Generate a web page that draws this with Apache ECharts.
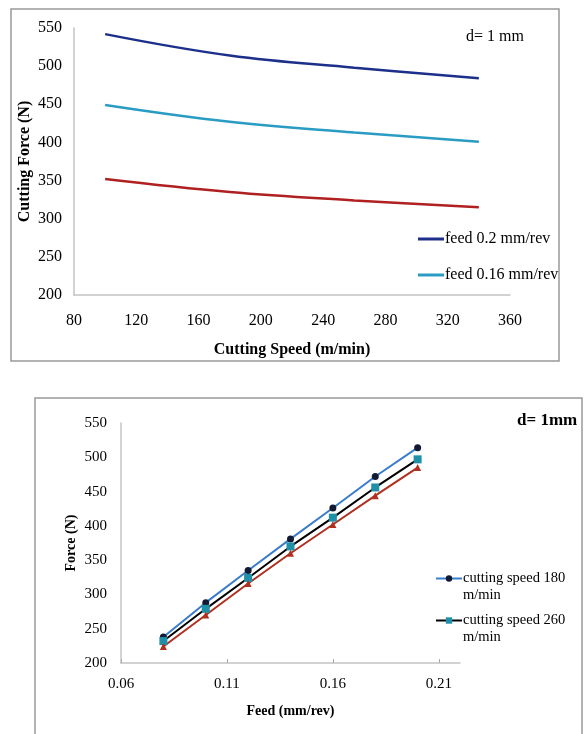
<!DOCTYPE html>
<html><head><meta charset="utf-8">
<script src="https://cdn.jsdelivr.net/npm/echarts@6/dist/echarts.min.js"></script>
<style>html,body{margin:0;padding:0;background:#fff}#c{width:584px;height:734px}</style>
</head><body><div id="c"></div>
<script>
// Top chart: cutting force vs cutting speed (d = 1 mm)
const speeds = [100, 180, 260, 340];
const feed020 = [542, 514, 498, 484];
const feed016 = [449, 427, 413, 401];
const feed012 = [352, 335, 324, 315];
const topNames = ['feed 0.2 mm/rev', 'feed 0.16 mm/rev', 'feed 0.12 mm/rev'];

// Bottom chart: force vs feed (d = 1 mm)
const feeds = [0.08, 0.10, 0.12, 0.14, 0.16, 0.18, 0.20];
const speed180 = [238, 288, 335, 381, 426, 472, 514];
const speed260 = [232, 279, 324, 370, 412, 456, 497];
const speed340 = [224, 270, 316, 360, 402, 444, 485];
const bottomNames = ['cutting speed 180 m/min', 'cutting speed 260 m/min', 'cutting speed 340 m/min'];

const serif = 'Liberation Serif';
const pair = (xs, ys) => xs.map((x, i) => [x, ys[i]]);

const chart = echarts.init(document.getElementById('c'), null, {renderer: 'canvas'});
chart.setOption({
  animation: false,
  backgroundColor: '#fff',
  textStyle: {fontFamily: serif},
  graphic: [
    {type: 'rect', shape: {x: 11, y: 9, width: 548, height: 352}, style: {fill: 'none', stroke: '#999', lineWidth: 1.5}, z: -1},
    {type: 'rect', shape: {x: 35, y: 398, width: 547, height: 360}, style: {fill: 'none', stroke: '#999', lineWidth: 1.5}, z: -1},
    {type: 'text', left: 466, top: 29, style: {text: 'd= 1 mm', font: '16px "Liberation Serif"', fill: '#000'}},
    {type: 'text', left: 517, top: 412, style: {text: 'd= 1mm', font: 'bold 17px "Liberation Serif"', fill: '#000'}}
  ],
  grid: [
    {left: 74, top: 28, width: 436, height: 267},
    {left: 121, top: 423, width: 339, height: 240}
  ],
  xAxis: [
    {type: 'value', gridIndex: 0, min: 80, max: 360, interval: 40,
     name: 'Cutting Speed (m/min)', nameLocation: 'middle', nameGap: 47,
     nameTextStyle: {fontFamily: serif, fontWeight: 'bold', fontSize: 16, color: '#000'},
     axisLine: {lineStyle: {color: '#c4c4c4', width: 1.5}}, axisTick: {show: false},
     axisLabel: {fontFamily: serif, fontSize: 16, color: '#000', margin: 18},
     splitLine: {show: false}},
    {type: 'value', gridIndex: 1, min: 0.06, max: 0.22, interval: 0.05,
     name: 'Feed (mm/rev)', nameLocation: 'middle', nameGap: 41,
     nameTextStyle: {fontFamily: serif, fontWeight: 'bold', fontSize: 14, color: '#000'},
     axisLine: {lineStyle: {color: '#c4c4c4', width: 1.5}},
     axisTick: {show: true, inside: true, length: 4, lineStyle: {color: '#aaa'}},
     axisLabel: {fontFamily: serif, fontSize: 15, color: '#000', margin: 14, showMaxLabel: false,
       formatter: v => v.toFixed(2)},
     splitLine: {show: false}}
  ],
  yAxis: [
    {type: 'value', gridIndex: 0, min: 200, max: 550, interval: 50,
     name: 'Cutting Force (N)', nameLocation: 'middle', nameGap: 41, nameMoveOverlap: false,
     nameTextStyle: {fontFamily: serif, fontWeight: 'bold', fontSize: 16, color: '#000'},
     axisLine: {show: true, lineStyle: {color: '#c4c4c4', width: 1.5}}, axisTick: {show: false},
     axisLabel: {fontFamily: serif, fontSize: 16, color: '#000', margin: 12},
     splitLine: {show: false}},
    {type: 'value', gridIndex: 1, min: 200, max: 550, interval: 50,
     name: 'Force (N)', nameLocation: 'middle', nameGap: 43, nameMoveOverlap: false,
     nameTextStyle: {fontFamily: serif, fontWeight: 'bold', fontSize: 14, color: '#000'},
     axisLine: {show: true, lineStyle: {color: '#c4c4c4', width: 1.5}}, axisTick: {show: false},
     axisLabel: {fontFamily: serif, fontSize: 15, color: '#000', margin: 14},
     splitLine: {show: false}}
  ],
  legend: [
    {data: [topNames[0], topNames[1]], orient: 'vertical', left: 413, top: 226,
     itemWidth: 26, itemHeight: 3, icon: 'rect', itemGap: 20,
     textStyle: {fontFamily: serif, fontSize: 16, color: '#000', lineHeight: 16, padding: [0,0,0,-4]}},
    {data: [bottomNames[0], bottomNames[1]], orient: 'vertical', left: 430, top: 548,
     itemWidth: 26, itemHeight: 8, itemGap: -9,
     formatter: n => '\n' + n.replace(' m/min', '\nm/min'),
     textStyle: {fontFamily: serif, fontSize: 14.5, color: '#000', lineHeight: 17, padding: [0,0,0,-4]}}
  ],
  series: [
    {name: topNames[0], type: 'line', xAxisIndex: 0, yAxisIndex: 0, data: pair(speeds, feed020),
     smooth: 0.4, showSymbol: false, lineStyle: {color: '#1c2f8a', width: 2.5}, itemStyle: {color: '#1c2f8a'}},
    {name: topNames[1], type: 'line', xAxisIndex: 0, yAxisIndex: 0, data: pair(speeds, feed016),
     smooth: 0.4, showSymbol: false, lineStyle: {color: '#2a9cc4', width: 2.5}, itemStyle: {color: '#2a9cc4'}},
    {name: topNames[2], type: 'line', xAxisIndex: 0, yAxisIndex: 0, data: pair(speeds, feed012),
     smooth: 0.4, showSymbol: false, lineStyle: {color: '#b02020', width: 2.5}, itemStyle: {color: '#b02020'}},
    {name: bottomNames[0], type: 'line', xAxisIndex: 1, yAxisIndex: 1, data: pair(feeds, speed180),
     symbol: 'circle', symbolSize: 7, lineStyle: {color: '#3a7ccc', width: 2}, itemStyle: {color: '#111a33'}},
    {name: bottomNames[1], type: 'line', xAxisIndex: 1, yAxisIndex: 1, data: pair(feeds, speed260),
     symbol: 'rect', symbolSize: 8, lineStyle: {color: '#000', width: 2}, itemStyle: {color: '#1e90a8'}},
    {name: bottomNames[2], type: 'line', xAxisIndex: 1, yAxisIndex: 1, data: pair(feeds, speed340),
     symbol: 'triangle', symbolSize: 7, lineStyle: {color: '#b03020', width: 2}, itemStyle: {color: '#b03020'}}
  ]
});
</script></body></html>
